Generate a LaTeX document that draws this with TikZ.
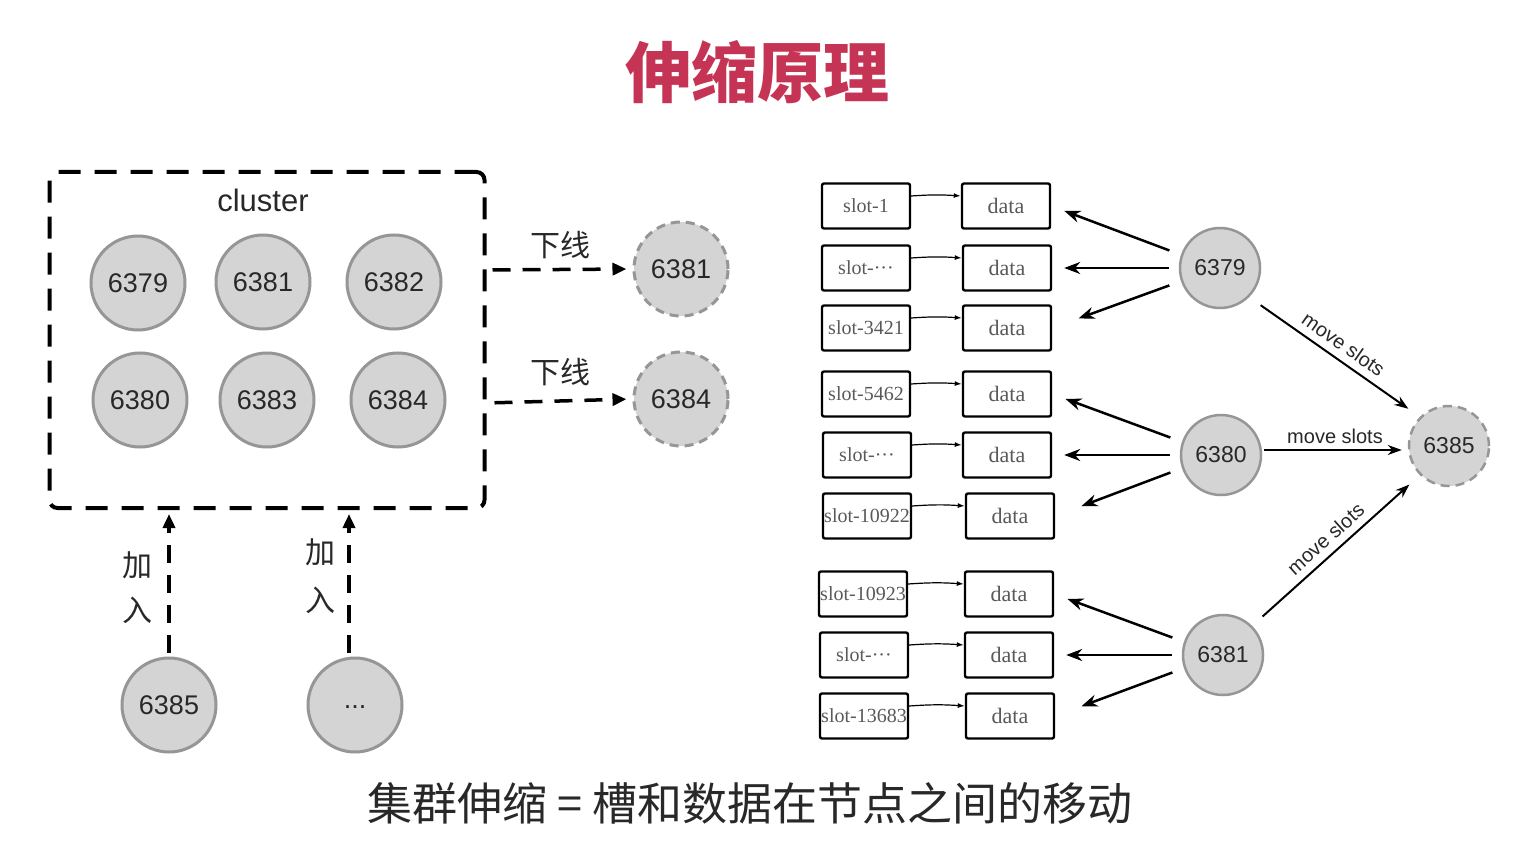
\documentclass[tikz,border=0pt]{standalone}
\usepackage{fontspec}
\setmainfont{Liberation Serif}
\setsansfont{Liberation Sans}
\newfontfamily\cjk{Noto Sans CJK SC}
\usetikzlibrary{arrows.meta}
\definecolor{titlered}{RGB}{197,52,84}
\definecolor{nodefill}{RGB}{212,212,212}
\definecolor{nodeedge}{RGB}{150,150,150}
\definecolor{inktext}{RGB}{40,40,40}
\newcommand{\fs}[1]{\fontsize{#1}{#1}\selectfont}
\tikzset{
  srv/.style={circle, fill=nodefill, draw=nodeedge, line width=3pt, minimum size=94pt,
    inner sep=0pt, font=\sffamily\fs{27pt}, text=inktext},
  srvsmall/.style={srv, minimum size=80pt, line width=2.5pt, font=\sffamily\fs{23pt}},
  gone/.style={dash pattern=on 9pt off 6pt},
  slotbox/.style={draw, line width=2.4pt, rounded corners=2pt, minimum width=88pt,
    minimum height=45pt, inner sep=0pt, font=\fs{20pt}, text=black!65},
  databox/.style={slotbox, font=\fs{22pt}},
  link/.style={-{Latex[length=7pt,width=5pt]}, line width=1.2pt},
  dasharrow/.style={line width=3.5pt, dash pattern=on 18pt off 12pt,
    -{Triangle[length=14pt,width=12pt]}},
  feed/.style={line width=2.5pt, -{Stealth[length=16pt,width=12pt]}},
  moveslots/.style={line width=2pt, -{Stealth[length=14pt,width=10pt]}},
  lbl/.style={font=\cjk\fs{30pt}, text=inktext},
  mvlbl/.style={font=\sffamily\fs{20pt}, text=inktext},
}
\begin{document}
\begin{tikzpicture}[x=1pt,y=-1pt]
\useasboundingbox[fill=white] (0,0) rectangle (1536,842);

% title
\node[font=\cjk\bfseries\fs{66pt}, text=titlered] (title) at (757,72) {伸缩原理};

% cluster frame
\node[draw, line width=4pt, dash pattern=on 22pt off 14pt, rounded corners=8pt,
  minimum width=435pt, minimum height=336pt] (cluster) at (267,340) {};
\node[font=\sffamily\fs{31pt}, text=inktext] (clabel) at (263,200) {cluster};

\node[srv] (c6379) at (138,283) {6379};
\node[srv] (c6381) at (263,282) {6381};
\node[srv] (c6382) at (394,282) {6382};
\node[srv] (c6380) at (140,400) {6380};
\node[srv] (c6383) at (267,400) {6383};
\node[srv] (c6384) at (398,400) {6384};

% nodes taken offline
\node[srv, gone] (off6381) at (681,269) {6381};
\node[srv, gone] (off6384) at (681,399) {6384};
\draw[dasharrow, shorten <=6pt, shorten >=6pt] ([yshift=70pt]cluster.east) -- (off6381.west);
\draw[dasharrow, shorten <=8pt, shorten >=6pt] ([yshift=-63pt]cluster.east) -- (off6384.west);
\node[lbl] (off1) at (560,245) {下线};
\node[lbl] (off2) at (560,372) {下线};

% nodes joining
\node[srv] (j6385) at (169,705) {6385};
\node[srv] (jmore) at (355,705) {\raisebox{-6pt}{...}};
\draw[dasharrow, shorten <=4pt, shorten >=4pt] (j6385.north) -- ([xshift=-98pt]cluster.south);
\draw[dasharrow, shorten <=4pt, shorten >=4pt] ([xshift=-6pt]jmore.north) -- ([xshift=82pt]cluster.south);
\node[lbl] (ja1) at (137,565) {加};
\node[lbl] (jb1) at (137,610) {入};
\node[lbl] (ja2) at (320,552) {加};
\node[lbl] (jb2) at (320,600) {入};

% slots and their data
\foreach \i/\sx/\dx/\y/\txt in {
  1/866/1006/206/slot-1,
  2/866/1007/268/slot-···,
  3/866/1007/328/slot-3421,
  4/866/1007/394/slot-5462,
  5/867/1007/455/slot-···,
  6/867/1010/516/slot-10922,
  7/863/1009/594/slot-10923,
  8/864/1009/655/slot-···,
  9/864/1010/716/slot-13683}{
  \node[slotbox] (s\i) at (\sx,\y) {\txt};
  \node[databox] (d\i) at (\dx,\y) {data};
  \draw[link] ([yshift=10pt]s\i.east) to[bend left=4] ([yshift=10pt]d\i.west);
}

% source masters
\node[srvsmall] (m6379) at (1220,268) {6379};
\node[srvsmall] (m6380) at (1221,455) {6380};
\node[srvsmall] (m6381) at (1223,655) {6381};
\node[srvsmall, gone] (n6385) at (1449,446) {6385};

\foreach \m/\a/\b/\c in {m6379/1/2/3, m6380/4/5/6, m6381/7/8/9}{
  \draw[feed, shorten <=10pt, shorten >=14pt] ([yshift=14pt]\m.west) -- (d\a.east);
  \draw[feed, shorten <=10pt, shorten >=12pt] (\m.west) -- (d\b.east);
  \draw[feed, shorten <=10pt, shorten >=28pt] ([yshift=-14pt]\m.west) -- (d\c.east);
}

% slot migration to the new node
\draw[moveslots, shorten <=14pt, shorten >=14pt] (m6379.south east) -- (n6385.north west)
  node[midway, sloped, above=4pt, mvlbl] (mv1) {move slots};
\draw[moveslots, shorten <=2pt, shorten >=6pt] ([yshift=5pt]m6380.east) -- ([yshift=-4pt]n6385.west)
  node[midway, above=2pt, mvlbl] (mv2) {move slots};
\draw[moveslots, shorten <=14pt, shorten >=14pt] (m6381.north east) -- (n6385.south west)
  node[midway, sloped, above=4pt, mvlbl] (mv3) {move slots};

% caption
\node[font=\cjk\fs{45pt}, text=inktext] (caption) at (750,803) {集群伸缩 = 槽和数据在节点之间的移动};
\end{tikzpicture}
\end{document}
